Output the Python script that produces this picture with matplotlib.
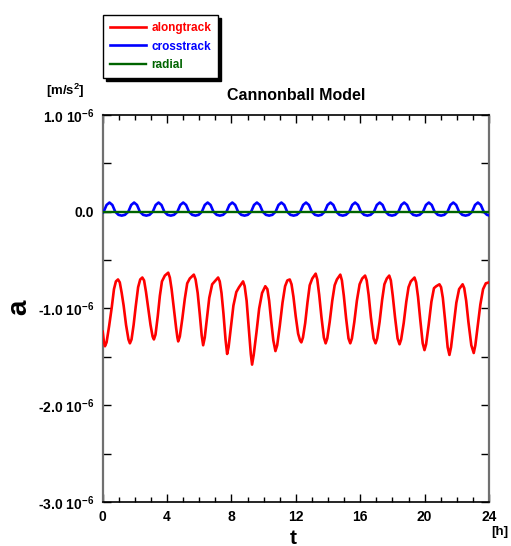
import numpy as np
import matplotlib
matplotlib.use('Agg')
import matplotlib.pyplot as plt
from matplotlib.ticker import MultipleLocator, FixedLocator, FixedFormatter

plt.rcParams['font.family'] = ['Liberation Sans', 'DejaVu Sans']
plt.rcParams['font.weight'] = 'bold'
plt.rcParams['mathtext.fontset'] = 'custom'
plt.rcParams['mathtext.bf'] = 'Liberation Sans:bold'
plt.rcParams['mathtext.rm'] = 'Liberation Sans:bold'
plt.rcParams['mathtext.default'] = 'bf'

# alongtrack (time [h], accel [1e-6 m/s^2])
along = [
    (0.0, -1.24), (0.07, -1.34),
    (0.14, -1.39), (0.24, -1.35), (0.4, -1.18), (0.56, -0.99), (0.7, -0.80), (0.82, -0.72),
    (0.95, -0.70), (1.06, -0.73), (1.18, -0.84), (1.3, -0.97), (1.45, -1.17), (1.6, -1.32),
    (1.69, -1.36), (1.79, -1.32), (1.92, -1.17), (2.05, -0.98), (2.2, -0.78), (2.33, -0.70),
    (2.46, -0.68), (2.57, -0.71), (2.69, -0.83), (2.82, -0.99), (2.97, -1.17), (3.1, -1.29),
    (3.18, -1.32), (3.28, -1.27), (3.42, -1.08), (3.55, -0.87), (3.68, -0.72), (3.86, -0.66),
    (4.07, -0.63), (4.17, -0.68), (4.28, -0.80), (4.42, -1.0), (4.56, -1.2), (4.64, -1.30),
    (4.69, -1.34), (4.79, -1.29), (4.95, -1.10), (5.1, -0.90), (5.25, -0.74), (5.41, -0.69),
    (5.66, -0.65), (5.77, -0.70), (5.9, -0.84), (6.03, -1.06), (6.15, -1.28),
    (6.24, -1.38), (6.34, -1.30), (6.47, -1.11), (6.62, -0.89), (6.8, -0.75), (6.96, -0.72),
    (7.17, -0.68), (7.27, -0.72), (7.38, -0.84), (7.5, -1.05), (7.63, -1.32),
    (7.73, -1.47), (7.82, -1.40), (7.96, -1.20), (8.12, -0.97), (8.3, -0.83), (8.47, -0.78),
    (8.72, -0.72), (8.82, -0.77), (8.94, -0.92), (9.07, -1.2), (9.2, -1.47),
    (9.28, -1.58), (9.38, -1.48), (9.55, -1.25), (9.72, -1.0), (9.9, -0.84),
    (10.1, -0.77), (10.23, -0.80), (10.34, -0.92), (10.46, -1.12), (10.6, -1.33),
    (10.73, -1.44), (10.84, -1.38), (11.0, -1.18), (11.17, -0.94), (11.33, -0.77), (11.47, -0.71),
    (11.62, -0.70), (11.73, -0.75), (11.85, -0.88), (11.99, -1.08), (12.14, -1.26), (12.26, -1.33),
    (12.34, -1.35), (12.44, -1.30), (12.58, -1.15), (12.72, -0.94), (12.86, -0.76), (13.02, -0.69),
    (13.23, -0.64), (13.33, -0.70), (13.45, -0.86), (13.59, -1.09), (13.74, -1.30),
    (13.85, -1.36), (13.95, -1.31), (14.1, -1.14), (14.26, -0.92), (14.41, -0.76), (14.55, -0.70),
    (14.76, -0.65), (14.86, -0.71), (14.98, -0.87), (15.12, -1.10), (15.27, -1.31),
    (15.38, -1.36), (15.48, -1.31), (15.63, -1.14), (15.79, -0.92), (15.96, -0.75), (16.12, -0.69),
    (16.3, -0.66), (16.4, -0.71), (16.52, -0.86), (16.66, -1.09), (16.83, -1.31),
    (16.95, -1.36), (17.05, -1.31), (17.2, -1.14), (17.36, -0.91), (17.5, -0.75), (17.65, -0.69),
    (17.8, -0.66), (17.9, -0.71), (18.02, -0.87), (18.16, -1.09), (18.32, -1.31),
    (18.44, -1.37), (18.54, -1.32), (18.7, -1.15), (18.86, -0.93), (19.0, -0.78), (19.14, -0.72),
    (19.37, -0.68), (19.47, -0.73), (19.59, -0.88), (19.73, -1.12), (19.88, -1.36),
    (19.99, -1.43), (20.09, -1.37), (20.25, -1.17), (20.42, -0.93), (20.58, -0.79), (20.72, -0.77),
    (20.92, -0.75), (21.02, -0.78), (21.13, -0.89), (21.27, -1.12), (21.43, -1.40),
    (21.54, -1.48), (21.64, -1.40), (21.8, -1.18), (21.97, -0.94), (22.14, -0.80),
    (22.36, -0.75), (22.46, -0.79), (22.58, -0.92), (22.72, -1.14), (22.9, -1.38),
    (23.05, -1.46), (23.15, -1.38), (23.3, -1.18), (23.46, -0.96), (23.63, -0.80), (23.8, -0.74),
    (24.0, -0.73),
]

# crosstrack
cross = [
    (0.0, -0.01),
    (0.06, 0.0), (0.24, 0.07), (0.42, 0.095), (0.60, 0.07), (0.78, 0.0), (0.98, -0.032), (1.18, -0.04), (1.38, -0.032),
    (1.59, 0.0), (1.77, 0.07), (1.95, 0.095), (2.13, 0.07), (2.31, 0.0), (2.51, -0.032), (2.71, -0.04), (2.91, -0.032),
    (3.11, 0.0), (3.29, 0.07), (3.47, 0.095), (3.65, 0.07), (3.83, 0.0), (4.03, -0.032), (4.23, -0.04), (4.43, -0.032),
    (4.64, 0.0), (4.82, 0.07), (5.00, 0.095), (5.18, 0.07), (5.36, 0.0), (5.56, -0.032), (5.76, -0.04), (5.96, -0.032),
    (6.16, 0.0), (6.34, 0.07), (6.52, 0.095), (6.70, 0.07), (6.88, 0.0), (7.08, -0.032), (7.28, -0.04), (7.48, -0.032),
    (7.69, 0.0), (7.87, 0.07), (8.05, 0.095), (8.23, 0.07), (8.41, 0.0), (8.61, -0.032), (8.81, -0.04), (9.01, -0.032),
    (9.22, 0.0), (9.40, 0.07), (9.58, 0.095), (9.76, 0.07), (9.94, 0.0), (10.14, -0.032), (10.34, -0.04), (10.54, -0.032),
    (10.74, 0.0), (10.92, 0.07), (11.10, 0.095), (11.28, 0.07), (11.46, 0.0), (11.66, -0.032), (11.86, -0.04), (12.06, -0.032),
    (12.27, 0.0), (12.45, 0.07), (12.63, 0.095), (12.81, 0.07), (12.99, 0.0), (13.19, -0.032), (13.39, -0.04), (13.59, -0.032),
    (13.79, 0.0), (13.97, 0.07), (14.15, 0.095), (14.33, 0.07), (14.51, 0.0), (14.71, -0.032), (14.91, -0.04), (15.11, -0.032),
    (15.32, 0.0), (15.50, 0.07), (15.68, 0.095), (15.86, 0.07), (16.04, 0.0), (16.24, -0.032), (16.44, -0.04), (16.64, -0.032),
    (16.85, 0.0), (17.03, 0.07), (17.21, 0.095), (17.39, 0.07), (17.57, 0.0), (17.77, -0.032), (17.97, -0.04), (18.17, -0.032),
    (18.37, 0.0), (18.55, 0.07), (18.73, 0.095), (18.91, 0.07), (19.09, 0.0), (19.29, -0.032), (19.49, -0.04), (19.69, -0.032),
    (19.90, 0.0), (20.08, 0.07), (20.26, 0.095), (20.44, 0.07), (20.62, 0.0), (20.82, -0.032), (21.02, -0.04), (21.22, -0.032),
    (21.42, 0.0), (21.60, 0.07), (21.78, 0.095), (21.96, 0.07), (22.14, 0.0), (22.34, -0.032), (22.54, -0.04), (22.74, -0.032),
    (22.95, 0.0), (23.13, 0.07), (23.31, 0.095), (23.49, 0.07), (23.67, 0.0), (23.87, -0.032), (24.0, -0.038),
]

# radial
radial_t = [0.0, 24.0]
radial_a = [0.0, 0.0]

ytick_vals = [1.0, 0.0, -1.0, -2.0, -3.0]
ytick_labels = ['1.0 10$^{-6}$', '0.0', '-1.0 10$^{-6}$', '-2.0 10$^{-6}$', '-3.0 10$^{-6}$']
xtick_vals = [0, 4, 8, 12, 16, 20, 24]

along_t, along_a = zip(*along)
cross_t, cross_a = zip(*cross)

fig = plt.figure(figsize=(5.11, 5.46), dpi=100)
ax = fig.add_axes([0.201, 0.0806, 0.756, 0.7088])

ax.plot(along_t, along_a, color='#ff0000', lw=1.9, label='alongtrack', zorder=3,
        solid_joinstyle='round')
ax.plot(cross_t, cross_a, color='#0000ff', lw=1.9, label='crosstrack', zorder=3,
        solid_joinstyle='round')
ax.plot(radial_t, radial_a, color='#006400', lw=1.7, label='radial', zorder=4)

ax.set_xlim(0, 24)
ax.set_ylim(-3.0, 1.0)
ax.xaxis.set_major_locator(FixedLocator(xtick_vals))
ax.xaxis.set_minor_locator(MultipleLocator(1))
ax.yaxis.set_major_locator(FixedLocator(ytick_vals))
ax.yaxis.set_major_formatter(FixedFormatter(ytick_labels))
ax.yaxis.set_minor_locator(MultipleLocator(0.5))
ax.tick_params(which='both', direction='in', top=True, right=True, width=1.0,
               labelsize=10, pad=6)
ax.tick_params(which='major', length=6)
ax.tick_params(axis='x', which='minor', length=3.5)
ax.tick_params(axis='y', which='minor', length=6)
for lab in ax.get_xticklabels() + ax.get_yticklabels():
    lab.set_fontweight('bold')

for s in ['left', 'right']:
    ax.spines[s].set_color('#707070')
    ax.spines[s].set_linewidth(1.6)
for s in ['top', 'bottom']:
    ax.spines[s].set_color('black')
    ax.spines[s].set_linewidth(1.2)

ax.set_title('Cannonball Model', fontsize=11.5, fontweight='bold', pad=11)
fig.text(19 / 511, 1 - 307 / 546, 'a', fontsize=20, fontweight='bold', rotation=90,
         ha='center', va='center')
fig.text(293 / 511, 1 - 538 / 546, 't', fontsize=15, fontweight='bold',
         ha='center', va='center')
fig.text(500 / 511, 1 - 532 / 546, '[h]', fontsize=9.5, fontweight='bold',
         ha='center', va='center')
fig.text(65 / 511, 1 - 91 / 546, '[m/s$^{2}$]', fontsize=9.5, fontweight='bold',
         ha='center', va='center')

leg = fig.legend(loc='upper left', bbox_to_anchor=(103 / 511, 1 - 15 / 546),
                 borderaxespad=0, fontsize=8.5, handlelength=3.0, handletextpad=0.5,
                 labelspacing=0.55, borderpad=0.6, fancybox=False, framealpha=1,
                 edgecolor='black', shadow={'color': 'black', 'alpha': 1},
                 labelcolor='linecolor')
leg.get_frame().set_linewidth(1.0)
for txt in leg.get_texts():
    txt.set_fontweight('bold')

fig.savefig('out.png', dpi=100)
